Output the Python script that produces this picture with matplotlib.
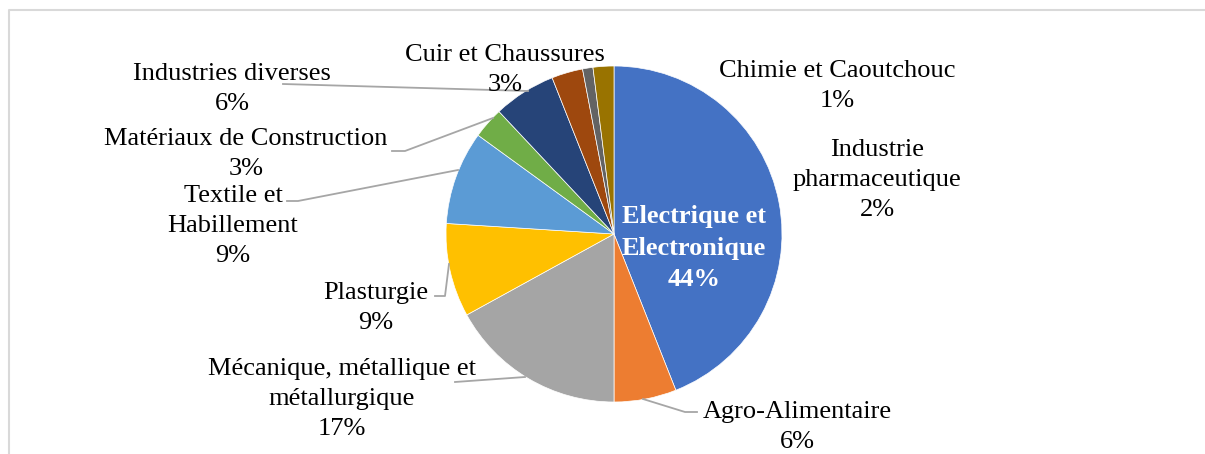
import matplotlib
matplotlib.use("Agg")
import matplotlib.pyplot as plt

# secteurs d'activite (ordre horaire depuis le haut)
categories = ["Electrique et\nElectronique", "Agro-Alimentaire",
              "Mécanique, métallique et\nmétallurgique", "Plasturgie",
              "Textile et\nHabillement", "Matériaux de Construction",
              "Industries diverses", "Cuir et Chaussures",
              "Chimie et Caoutchouc", "Industrie\npharmaceutique"]
values = [44, 6, 17, 9, 9, 3, 6, 3, 1, 2]
colors = ["#4472C4", "#ED7D31", "#A5A5A5", "#FFC000", "#5B9BD5",
          "#70AD47", "#264478", "#9E480E", "#636363", "#997300"]

W, H = 1205, 454
def Y(y):
    return H - y

plt.rcParams['font.family'] = ['Liberation Serif', 'DejaVu Serif']

fig = plt.figure(figsize=(W / 100, H / 100), dpi=100)
ax = fig.add_axes([0, 0, 1, 1])

cx, cy, r = 614, Y(234), 168
ax.pie(values, colors=colors, startangle=90, counterclock=False,
       center=(cx, cy), radius=r, frame=True,
       wedgeprops=dict(edgecolor="white", linewidth=0.5))
ax.set_xlim(0, W)
ax.set_ylim(0, H)
ax.set_aspect('equal')
ax.axis('off')

# cadre gris clair (coupe a droite et en bas)
ax.plot([9, 9, W + 5], [-5, Y(10), Y(10)], color="#D9D9D9", lw=1.5)

# positions des etiquettes (centre du bloc de texte, en pixels)
label_pos = [(694, 248), (797, 427), (342, 399), (376, 308), (233, 226),
             (246, 154), (232, 89), (505, 70), (837, 86), (877, 180)]

for i, (cat, v) in enumerate(zip(categories, values)):
    x, y = label_pos[i]
    txt = f"{cat}\n{v}%"
    if i == 0:
        ax.text(x, Y(y), txt, ha="center", va="center", fontsize=19,
                color="white", fontweight="bold", linespacing=1.47)
    else:
        ax.text(x, Y(y), txt, ha="center", va="center", fontsize=19,
                color="black", linespacing=1.47)

# lignes de rappel
leaders = [
    [(697, 412), (685, 412), (643, 399)],
    [(455, 382), (525, 377)],
    [(435, 296), (445, 296), (449, 264)],
    [(287, 201), (298, 201), (458, 170)],
    [(392, 151), (405, 151), (493, 118)],
    [(283, 84), (528, 91)],
]
for pts in leaders:
    xs = [p[0] for p in pts]
    ys = [Y(p[1]) for p in pts]
    ax.plot(xs, ys, color="#A6A6A6", lw=1.3)

fig.savefig("out.png", dpi=100)
